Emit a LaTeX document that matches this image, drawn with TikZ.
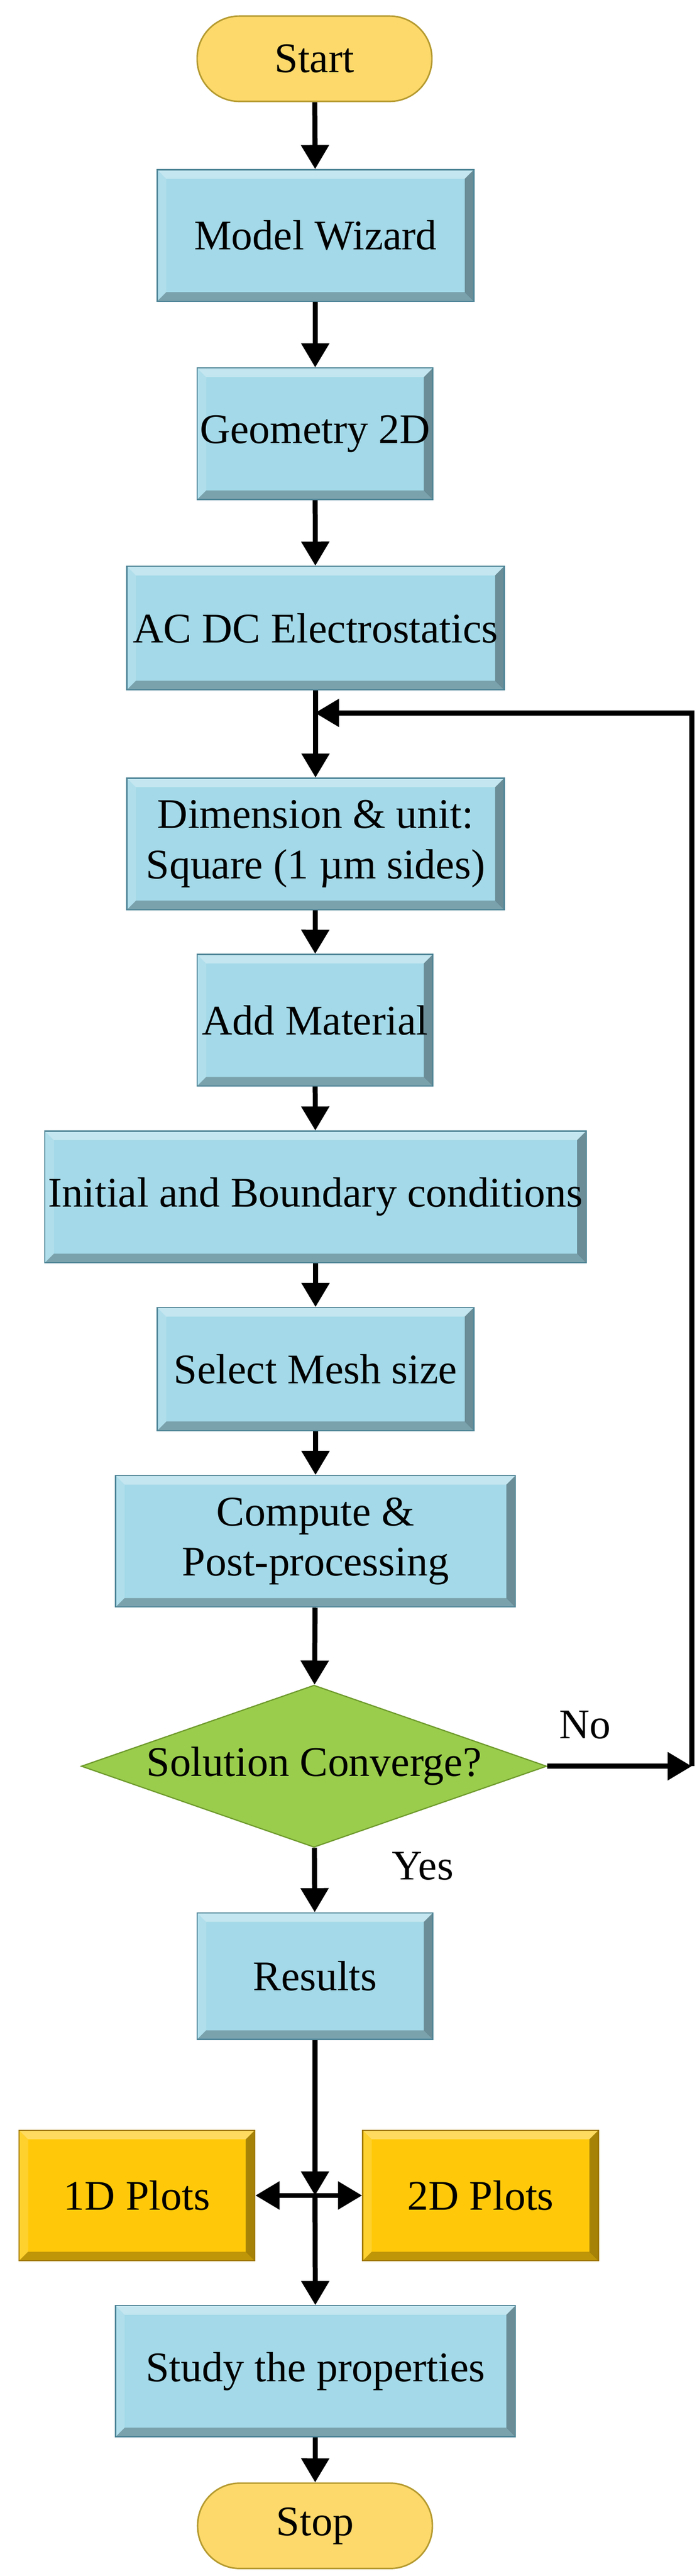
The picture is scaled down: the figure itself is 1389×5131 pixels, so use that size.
\documentclass[tikz,border=0pt]{standalone}
\usepackage{fontspec}
\setmainfont{Liberation Serif}
\usetikzlibrary{shapes.geometric,arrows.meta}
\definecolor{boxblue}{HTML}{A3D9E8}
\definecolor{boxedge}{HTML}{4F8597}
\definecolor{gold}{HTML}{FFC90A}
\definecolor{goldedge}{HTML}{A07A00}
\definecolor{term}{HTML}{FCD96A}
\definecolor{termedge}{HTML}{B59A30}
\definecolor{green}{HTML}{9ACD4C}
\definecolor{greenedge}{HTML}{6E9A2C}
\tikzset{
  bevel/.style={path picture={
    \fill[white,opacity=0.35] (path picture bounding box.north west) -- (path picture bounding box.north east) -- ([xshift=-9pt,yshift=-9pt]path picture bounding box.north east) -- ([xshift=9pt,yshift=-9pt]path picture bounding box.north west) -- cycle;
    \fill[white,opacity=0.15] (path picture bounding box.north west) -- (path picture bounding box.south west) -- ([xshift=9pt,yshift=9pt]path picture bounding box.south west) -- ([xshift=9pt,yshift=-9pt]path picture bounding box.north west) -- cycle;
    \fill[black,opacity=0.25] (path picture bounding box.south west) -- (path picture bounding box.south east) -- ([xshift=-9pt,yshift=9pt]path picture bounding box.south east) -- ([xshift=9pt,yshift=9pt]path picture bounding box.south west) -- cycle;
    \fill[black,opacity=0.35] (path picture bounding box.north east) -- (path picture bounding box.south east) -- ([xshift=-9pt,yshift=9pt]path picture bounding box.south east) -- ([xshift=-9pt,yshift=-9pt]path picture bounding box.north east) -- cycle;
  }},
  box/.style={rectangle, fill=boxblue, draw=boxedge, line width=1.2pt, inner sep=0pt, align=center, bevel,
    font=\fontsize{42}{50}\selectfont, minimum height=131pt},
  plot/.style={box, fill=gold, draw=goldedge},
  term/.style={rectangle, rounded corners=42pt, fill=term, draw=termedge, line width=1.5pt, inner sep=0pt,
    minimum width=234pt, minimum height=85pt, font=\fontsize{42}{50}\selectfont},
  dec/.style={diamond, fill=green, draw=greenedge, line width=1.2pt, inner sep=0pt, aspect=2.87,
    minimum width=464pt, minimum height=161.5pt, font=\fontsize{42}{50}\selectfont},
  arr/.style={line width=5pt, -{Triangle[width=27pt,length=24pt]}},
  lbl/.style={font=\fontsize{42}{50}\selectfont}
}
\begin{document}
\begin{tikzpicture}[x=0.5pt,y=-0.5pt]
\useasboundingbox (0,0) rectangle (1389,5131);
\node[term] (start) at (627,117) {Start};
\node[box, minimum width=315.5pt] (model) at (629,469) {Model Wizard};
\node[box, minimum width=235pt] (geom) at (628,864) {Geometry 2D};
\node[box, minimum width=376pt, minimum height=123pt] (acdc) at (629,1251) {AC DC Electrostatics};
\node[box, minimum width=376pt] (dim) at (629,1681) {Dimension \& unit:\\Square (1 µm sides)};
\node[box, minimum width=235pt] (add) at (628,2032) {Add Material};
\node[box, minimum width=539.5pt] (init) at (629,2384) {Initial and Boundary conditions};
\node[box, minimum width=315.5pt, minimum height=122.5pt] (mesh) at (629,2727) {Select Mesh size};
\node[box, minimum width=398.5pt] (comp) at (629,3070) {Compute \&\\Post-processing};
\node[dec] (conv) at (626,3518) {Solution Converge?};
\node[box, minimum width=235pt, minimum height=126pt] (res) at (628,3936) {Results};
\node[plot, minimum width=235pt, minimum height=130pt] (p1) at (273,4373) {1D Plots};
\node[plot, minimum width=235pt, minimum height=130pt] (p2) at (958,4373) {2D Plots};
\node[box, minimum width=398.5pt, minimum height=130.5pt] (study) at (629,4723) {Study the properties};
\node[term] (stop) at (628,5031) {Stop};
\node[lbl] (no) at (1166,3436) {No};
\node[lbl] (yes) at (843,3717) {Yes};
\coordinate (corner) at (1379,3518);
\coordinate (top) at (1379,1420);
\coordinate (join) at (628,1420);
\coordinate (cross) at (628,4373);
\draw[arr] (start) -- (model);
\draw[arr] (model) -- (geom);
\draw[arr] (geom) -- (acdc);
\draw[arr] (acdc) -- (dim);
\draw[arr] (dim) -- (add);
\draw[arr] (add) -- (init);
\draw[arr] (init) -- (mesh);
\draw[arr] (mesh) -- (comp);
\draw[arr] (comp) -- (conv);
\draw[arr] (conv) -- (res);
\draw[arr] (conv.east) -- (corner);
\draw[arr] (corner) -- (top) -- (join);
\draw[arr] (res) -- (cross);
\draw[arr] (cross) -- (study);
\draw[arr] (cross) -- (p1);
\draw[arr] (cross) -- (p2);
\draw[arr] (study) -- (stop);
\end{tikzpicture}
\end{document}
